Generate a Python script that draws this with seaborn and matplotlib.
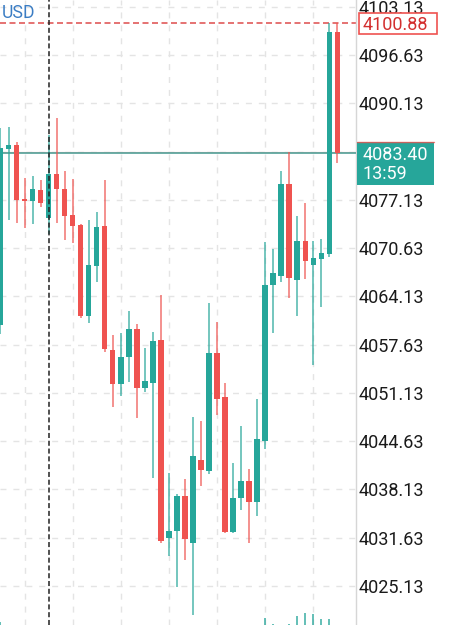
import numpy as np
import pandas as pd
import matplotlib
matplotlib.use("Agg")
import matplotlib.pyplot as plt
import matplotlib.transforms as mtransforms
from matplotlib.patches import Rectangle
import seaborn as sns

# candles (oldest -> newest)
opens = [4060.28, 4083.97, 4084.51, 4077.24, 4076.97, 4078.45, 4074.68, 4080.61, 4078.59, 4075.09,
         4073.74, 4061.49, 4068.22, 4073.61, 4056.91, 4052.33, 4055.97, 4059.74, 4051.80, 4052.47,
         4058.26, 4031.60, 4032.54, 4037.25, 4030.93, 4042.10, 4040.62, 4056.51, 4050.58, 4032.41,
         4036.98, 4039.27, 4036.45, 4044.66, 4065.66, 4066.87, 4079.26, 4066.34, 4071.59, 4068.36,
         4069.16, 4069.84, 4099.73]
highs = [4086.80, 4086.94, 4084.92, 4080.07, 4080.34, 4079.80, 4085.86, 4088.15, 4081.01, 4079.93,
         4073.88, 4074.41, 4075.49, 4079.80, 4058.93, 4059.20, 4062.16, 4060.41, 4057.18, 4059.34,
         4064.32, 4040.35, 4037.52, 4039.54, 4047.89, 4047.35, 4063.24, 4060.68, 4052.47, 4041.70,
         4046.68, 4040.89, 4050.31, 4071.45, 4070.51, 4081.01, 4083.57, 4074.95, 4076.70, 4071.59,
         4071.86, 4100.88, 4100.88]
lows = [4059.07, 4074.41, 4074.01, 4073.34, 4073.88, 4076.17, 4072.53, 4074.01, 4071.72, 4071.32,
        4061.22, 4060.55, 4066.07, 4056.64, 4049.24, 4050.72, 4052.60, 4047.76, 4051.26, 4039.68,
        4030.93, 4029.17, 4025.00, 4028.64, 4021.23, 4038.60, 4040.22, 4048.16, 4032.27, 4032.27,
        4035.37, 4030.93, 4034.56, 4043.58, 4059.20, 4066.07, 4063.91, 4061.49, 4066.47, 4054.89,
        4062.70, 4069.50, 4082.09]
closes = [4084.11, 4084.51, 4077.11, 4076.97, 4078.59, 4076.70, 4080.61, 4078.59, 4074.95, 4073.61,
          4061.49, 4068.36, 4073.47, 4057.05, 4052.33, 4055.97, 4059.74, 4051.80, 4052.74, 4058.12,
          4031.20, 4032.54, 4037.25, 4031.46, 4042.64, 4040.75, 4056.51, 4050.31, 4032.41, 4036.98,
          4039.27, 4036.45, 4044.93, 4065.66, 4067.28, 4079.26, 4066.60, 4071.59, 4068.89, 4069.30,
          4069.97, 4099.73, 4083.40]
# volume pane just peeks in at the bottom
volumes = [300, 0, 0, 0, 0, 0, 0, 0, 0, 0,
           0, 0, 0, 0, 0, 0, 0, 0, 0, 0,
           0, 0, 0, 0, 0, 0, 0, 0, 0, 0,
           0, 0, 0, 700, 100, 0, 100, 900, 1200, 1100,
           600, 600, 0]

price_ticks = [4103.13, 4096.63, 4090.13, 4083.63, 4077.13, 4070.63, 4064.13,
               4057.63, 4051.13, 4044.63, 4038.13, 4031.63, 4025.13]
last_price = 4083.40
session_high = 4100.88
countdown = "13:59"
symbol = "USD"
marker_candle = 6
grid_candles = [3, 9, 15, 21, 27, 33, 39]

UP = "#26a69a"
DOWN = "#ef5350"

sns.set_theme(style="white")
plt.rcParams['font.family'] = ['Roboto', 'DejaVu Sans']

df = pd.DataFrame({"open": opens, "high": highs, "low": lows, "close": closes, "volume": volumes})
df["idx"] = np.arange(len(df))
df["color"] = np.where(df["close"] >= df["open"], UP, DOWN)
df["bottom"] = df[["open", "close"]].min(axis=1)
df["height"] = (df["close"] - df["open"]).abs().clip(lower=0.3)

W, H = 449, 625
AX_W = 356
fig = plt.figure(figsize=(W / 100, H / 100), dpi=100)
ax = fig.add_axes([0, 0, AX_W / W, 1])

ax.set_xlim(-0.062, 44.33)
ax.set_ylim(4019.88, 4104.04)
ppu = H / (4104.04 - 4019.88)  # pixels per price unit

# grid; the tick hidden under the live price tag gets no label
ax.set_xticks(grid_candles)
ax.set_xticklabels([])
ax.set_yticks(price_ticks)
ax.set_yticklabels(["" if abs(t - last_price) < 3 else f"{t:.2f}" for t in price_ticks])
ax.yaxis.tick_right()
ax.tick_params(axis="both", length=0)
ax.tick_params(axis="y", pad=2.2, labelsize=13, labelcolor="#1a1a1a")
ax.grid(True, color="#e4e4e4", lw=1, ls=(0, (4.3, 5)))
for s in ["top", "left", "bottom"]:
    ax.spines[s].set_visible(False)
ax.spines["right"].set_color("#d6d6d6")
ax.spines["right"].set_linewidth(1)

# candles
ax.vlines(df["idx"], df["low"], df["high"], colors=df["color"], lw=1.2, alpha=0.75, zorder=3)
ax.bar(df["idx"], df["height"], bottom=df["bottom"], width=0.68, color=df["color"], lw=0, zorder=4)

# reference lines
ax.axhline(session_high, color="#e05a5a", lw=1.2, ls=(0, (3.6, 2.1)), zorder=2)
ax.axhline(last_price + 1.0 / ppu, color=DOWN, lw=0.8, alpha=0.6, zorder=2.6)
ax.axhline(last_price, color="#5fa8a0", lw=1.3, zorder=2.7)
ax.axvline(marker_candle, color="#222222", lw=1.1, ls=(0, (3.3, 1.8)), zorder=5)

# price labels on the right
trans = mtransforms.blended_transform_factory(ax.transAxes, ax.transData)
ax.add_patch(Rectangle((359 / AX_W, session_high - 10.5 / ppu), 78 / AX_W, 21 / ppu,
                       transform=trans, fc="white", ec=DOWN, lw=1.2, clip_on=False, zorder=6))
ax.text(363 / AX_W, session_high, f"{session_high:.2f}", transform=trans, ha="left",
        va="center_baseline", fontsize=13, color="#d32f2f", clip_on=False, zorder=7)

box_top = last_price + 11 / ppu
ax.add_patch(Rectangle((357 / AX_W, box_top - 43 / ppu), 77 / AX_W, 43 / ppu,
                       transform=trans, fc=UP, ec="none", clip_on=False, zorder=6))
ax.plot([357 / AX_W, 434 / AX_W], [box_top, box_top], transform=trans, color=DOWN,
        lw=1, alpha=0.8, clip_on=False, zorder=6.5)
ax.text(363 / AX_W, last_price, f"{last_price:.2f}", transform=trans, ha="left",
        va="center_baseline", fontsize=13, color="white", clip_on=False, zorder=7)
ax.text(363 / AX_W, last_price - 19 / ppu, countdown, transform=trans, ha="left",
        va="center_baseline", fontsize=13, color="white", clip_on=False, zorder=7)

# volume bars
axv = fig.add_axes([0, 0, AX_W / W, 1], sharex=ax)
axv.patch.set_visible(False)
axv.axis("off")
axv.set_ylim(0, 62500)
axv.bar(df["idx"], df["volume"], width=0.22, color=UP, alpha=0.7, lw=0)

fig.text(2 / W, 1 - 13 / H, symbol, fontsize=12.7, color="#3b7dc4", ha="left", va="center")

fig.savefig("out.png", dpi=100)
